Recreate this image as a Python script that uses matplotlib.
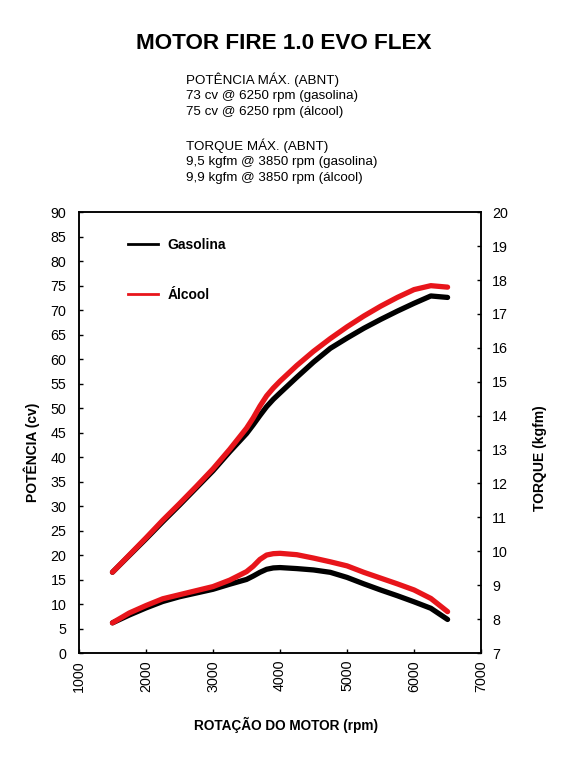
import matplotlib
matplotlib.use("Agg")
import matplotlib.pyplot as plt
from matplotlib.lines import Line2D

plt.rcParams["font.family"] = ["Liberation Sans", "DejaVu Sans"]

RPM = [1500, 1750, 2000, 2250, 2500, 2750, 3000, 3250, 3500, 3600, 3700,
       3800, 3900, 4000, 4250, 4500, 4750, 5000, 5250, 5500, 5750, 6000,
       6250, 6500]

POWER_GAS = [16.5, 19.9, 23.3, 26.8, 30.2, 33.7, 37.2, 41.1, 44.8, 46.6, 48.5,
             50.3, 51.8, 53.1, 56.3, 59.4, 62.2, 64.3, 66.3, 68.1, 69.8, 71.4,
             72.9, 72.6]
POWER_ALC = [16.5, 20.0, 23.5, 27.1, 30.5, 34.0, 37.6, 41.6, 45.9, 48.0, 50.4,
             52.5, 54.1, 55.5, 58.7, 61.6, 64.2, 66.6, 68.8, 70.8, 72.6, 74.2,
             75.0, 74.7]

TORQUE_GAS = [7.89, 8.12, 8.33, 8.52, 8.66, 8.77, 8.88, 9.03, 9.17, 9.27, 9.38,
              9.47, 9.51, 9.52, 9.49, 9.45, 9.38, 9.23, 9.04, 8.86, 8.69, 8.51,
              8.32, 7.99]
TORQUE_ALC = [7.89, 8.18, 8.40, 8.60, 8.72, 8.84, 8.96, 9.15, 9.40, 9.56, 9.76,
              9.89, 9.93, 9.94, 9.90, 9.80, 9.69, 9.57, 9.38, 9.21, 9.04, 8.86,
              8.61, 8.22]

SPECS = [
    "POTÊNCIA MÁX. (ABNT)",
    "73 cv @ 6250 rpm (gasolina)",
    "75 cv @ 6250 rpm (álcool)",
    "",
    "TORQUE MÁX. (ABNT)",
    "9,5 kgfm @ 3850 rpm (gasolina)",
    "9,9 kgfm @ 3850 rpm (álcool)",
]

RED = "#e8151b"
BLACK = "#000000"

fig = plt.figure(figsize=(5.68, 7.68), dpi=100)
ax = fig.add_axes([0.139, 0.1497, 0.708, 0.574])
ax2 = ax.twinx()

style = dict(lw=3.8, solid_capstyle="round", solid_joinstyle="round")
ax.plot(RPM, POWER_GAS, color=BLACK, zorder=2, **style)
ax.plot(RPM, POWER_ALC, color=RED, zorder=3, **style)
ax2.plot(RPM, TORQUE_GAS, color=BLACK, zorder=2, **style)
ax2.plot(RPM, TORQUE_ALC, color=RED, zorder=3, **style)

ax.set_xlim(1000, 7000)
ax.set_ylim(0, 90)
ax2.set_ylim(7, 20)
ax.set_xticks(range(1000, 7001, 1000))
ax.set_yticks(range(0, 91, 5))
ax2.set_yticks(range(7, 21))

for a in (ax, ax2):
    for sp in a.spines.values():
        sp.set_linewidth(1.1)
    a.tick_params(direction="in", length=3, width=1, labelsize=10.3)
ax.tick_params(axis="x", labelrotation=90, pad=5)
ax.tick_params(axis="y", pad=9)
ax2.tick_params(axis="y", pad=8)

handles = [Line2D([], [], color=BLACK, lw=2),
           Line2D([], [], color=RED, lw=2)]
ax.legend(handles, ["Gasolina", "Álcool"], loc="upper left",
          bbox_to_anchor=(0.09, 0.97), frameon=False, handlelength=2.2,
          handletextpad=0.65, labelspacing=2.6,
          prop={"weight": "bold", "size": 10})

fig.text(0.5, 0.943, "MOTOR FIRE 1.0 EVO FLEX", ha="center", va="center",
         fontsize=16.2, fontweight="bold")
fig.text(0.327, 0.906, "\n".join(SPECS), ha="left", va="top",
         fontsize=9.6, linespacing=1.4)

fig.text(0.056, 0.411, "POTÊNCIA (cv)", rotation=90, ha="center",
         va="center", fontsize=10, fontweight="bold")
fig.text(0.951, 0.404, "TORQUE (kgfm)", rotation=90, ha="center",
         va="center", fontsize=10, fontweight="bold")
fig.text(0.503, 0.056, "ROTAÇÃO DO MOTOR (rpm)", ha="center", va="center",
         fontsize=9.8, fontweight="bold")

fig.savefig("out.png", dpi=100)
